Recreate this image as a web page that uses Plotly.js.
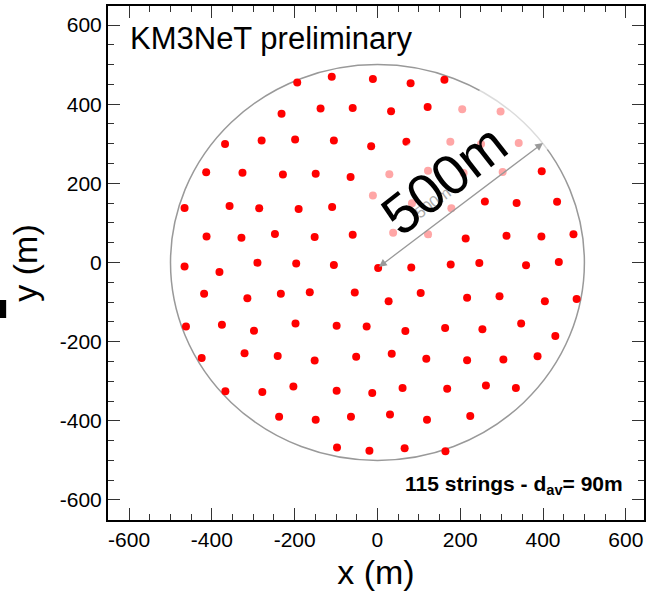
<!DOCTYPE html>
<html>
<head>
<meta charset="utf-8">
<script src="https://cdn.plot.ly/plotly-3.0.1.min.js"></script>
<style>html,body{margin:0;padding:0;background:#fff;}#chart{width:646px;height:593px;}</style>
</head>
<body>
<div id="chart"></div>
<script>
// String positions (m)
const stringX = [
  -193.8, -110.4, -11.0, 80.1, 161.8,
  -231.7, -137.4, -59.8, 32.9, 121.3, 204.8, 297.5,
  -368.2, -279.8, -198.9, -105.3, -15.2, 69.9, 176.1, 250.3, 341.3,
  -413.8, -326.1, -228.4, -149.2, -64.9, 28.7, 122.2, 208.1, 302.5, 396.9,
  -466.0, -357.3, -285.7, -190.4, -109.5, -11.0, 83.4, 178.6, 259.5, 336.2, 434.0,
  -412.9, -328.6, -247.7, -151.7, -59.8, 37.9, 122.2, 213.2, 311.8, 396.1, 473.6,
  -466.0, -381.7, -289.9, -196.3, -105.3, 1.7, 81.7, 177.0, 246.1, 359.0, 438.2,
  -418.8, -314.3, -233.4, -163.5, -54.8, 27.0, 104.5, 216.6, 294.9, 404.5, 481.2,
  -462.6, -375.8, -298.3, -198.0, -98.6, -26.1, 67.4, 163.5, 253.6, 347.2, 429.8,
  -424.7, -321.1, -241.0, -151.7, -51.4, 34.5, 118.0, 216.6, 304.2, 386.8,
  -367.4, -278.1, -203.1, -98.6, -12.6, 60.7, 168.5, 262.1, 334.5,
  -237.6, -149.2, -64.0, 30.3, 119.7, 224.2,
  -97.7, -19.4, 65.7, 164.3
];
const stringY = [
  454.9, 469.2, 463.5, 453.0, 461.6,
  375.7, 389.0, 390.0, 382.3, 392.8, 387.1, 381.4,
  299.3, 307.9, 310.7, 307.9, 293.6, 305.0, 305.0, 299.3, 302.1,
  227.7, 226.7, 222.0, 223.9, 216.2, 222.9, 231.5, 225.8, 228.6, 230.5,
  137.9, 142.7, 137.0, 135.1, 139.9, 169.5, 149.4, 137.0, 154.2, 150.4, 153.2,
  65.4, 62.5, 72.1, 64.4, 70.2, 74.9, 71.1, 60.6, 67.3, 65.4, 71.1,
  -10.0, -24.3, -0.5, -2.4, -6.2, -13.8, -12.9, -5.3, -1.4, -7.2, 1.4,
  -78.8, -90.2, -78.8, -74.9, -75.9, -97.9, -76.8, -89.3, -85.4, -97.9, -92.1,
  -161.8, -157.0, -172.3, -154.2, -159.9, -161.8, -173.3, -165.6, -168.5, -154.2, -185.7,
  -241.1, -229.6, -236.3, -247.7, -238.2, -230.5, -243.0, -246.8, -244.9, -237.2,
  -325.1, -327.0, -313.6, -324.1, -329.8, -317.4, -319.3, -310.7, -317.4,
  -390.0, -397.6, -390.0, -384.2, -397.6, -388.1,
  -467.3, -475.9, -469.2, -476.8
];

const tickVals = [-600, -400, -200, 0, 200, 400, 600];
const tickText = ['-600', '-400', '-200', '0', '200', '400', '600'];

const detectorRadius = 500;
const arrowFrom = [0, -14];
const arrowTo = [400, 302];
const labelBox = {x: [48.6, 425.0, 296.9, -79.5], y: [0.3, 296.9, 474.5, 177.9]};

const FONT = 'Liberation Sans, Arial, Helvetica, sans-serif';

const trace = {
  type: 'scatter',
  mode: 'markers',
  x: stringX,
  y: stringY,
  marker: {color: '#ff0000', size: 8, line: {width: 0}},
  hoverinfo: 'skip'
};

function axis(range, title, standoff) {
  return {
    range: range,
    tickmode: 'array',
    tickvals: tickVals,
    ticktext: tickText,
    ticks: 'inside',
    ticklen: 12,
    tickwidth: 1,
    tickcolor: '#333',
    minor: {tickmode: 'linear', tick0: 0, dtick: 50, ticks: 'inside', ticklen: 6, tickwidth: 1, tickcolor: '#333'},
    showline: true,
    linecolor: '#000',
    linewidth: 2,
    mirror: 'ticks',
    showgrid: false,
    zeroline: false,
    tickfont: {family: FONT, size: 21, color: '#000'},
    title: {text: title, font: {family: FONT, size: 34, color: '#000'}, standoff: standoff}
  };
}

const boxPath = 'M ' + labelBox.x.map((v, i) => v + ',' + labelBox.y[i]).join(' L ') + ' Z';

const layout = {
  width: 646,
  height: 593,
  margin: {l: 108, r: 2, t: 6, b: 73},
  paper_bgcolor: '#fff',
  plot_bgcolor: '#fff',
  showlegend: false,
  font: {family: FONT, color: '#000'},
  xaxis: axis([-651, 644], 'x (m)', 10),
  yaxis: axis([-650.6, 648], 'y (m)', 12),
  shapes: [
    {type: 'circle', xref: 'x', yref: 'y', x0: -detectorRadius, x1: detectorRadius,
     y0: -detectorRadius, y1: detectorRadius, line: {color: '#999', width: 1.5}, layer: 'below'},
    {type: 'path', xref: 'x', yref: 'y', path: boxPath, fillcolor: 'rgba(255,255,255,0.65)',
     line: {width: 0}, layer: 'above'},
    {type: 'rect', xref: 'paper', yref: 'paper', x0: -0.2015, x1: -0.19, y0: 0.393, y1: 0.428,
     fillcolor: '#000', line: {width: 0}}
  ],
  annotations: [
    {xref: 'x', yref: 'y', axref: 'x', ayref: 'y', x: arrowTo[0], y: arrowTo[1],
     ax: arrowFrom[0], ay: arrowFrom[1], text: '', showarrow: true, arrowside: 'end+start',
     arrowhead: 2, arrowsize: 1.2, arrowwidth: 1.3, arrowcolor: '#999', standoff: 0, startstandoff: 0},
    {xref: 'x', yref: 'y', x: 134.6, y: 150.4, text: '500m', showarrow: false, textangle: -37,
     font: {family: FONT, size: 16, color: '#aaa'}},
    {xref: 'x', yref: 'y', x: 160, y: 210, text: '500m', showarrow: false, textangle: -38,
     font: {family: FONT, size: 56, color: '#000'}},
    {xref: 'paper', yref: 'paper', x: 0.037, y: 0.936, xanchor: 'left', yanchor: 'middle',
     text: 'KM3NeT preliminary', showarrow: false, font: {family: FONT, size: 31, color: '#000'}},
    {xref: 'paper', yref: 'paper', x: 0.965, y: 0.068, xanchor: 'right', yanchor: 'middle',
     text: '<b>115 strings - d<sub>av</sub>= 90m</b>', showarrow: false,
     font: {family: FONT, size: 21, color: '#000'}}
  ]
};

Plotly.newPlot('chart', [trace], layout, {displayModeBar: false, staticPlot: true});
</script>
</body>
</html>
